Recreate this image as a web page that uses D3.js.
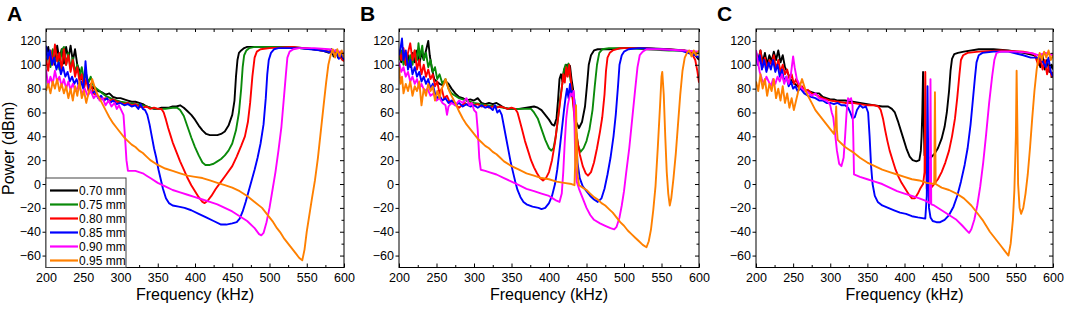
<!DOCTYPE html>
<html>
<head>
<meta charset="utf-8">
<script src="https://cdn.jsdelivr.net/npm/d3@7"></script>
<style>
  body { margin: 0; background: #fff; }
  svg text { font-family: "Liberation Sans", Arial, sans-serif; }
</style>
</head>
<body>
<svg id="chart" width="1065" height="312"></svg>
<script>
// valeurs : [fréquence kHz, puissance dBm]
const thicknesses = ['0.70 mm', '0.75 mm', '0.80 mm', '0.85 mm', '0.90 mm', '0.95 mm'];
const seriesColors = ['#000000', '#0a8a0a', '#ff0000', '#0000ff', '#ff00ff', '#ff8000'];
const xTicks = [200, 250, 300, 350, 400, 450, 500, 550, 600];
const yTicks = [-60, -40, -20, 0, 20, 40, 60, 80, 100, 120];
const xMinor = [225, 275, 325, 375, 425, 475, 525, 575];
const yMinor = [-50, -30, -10, 10, 30, 50, 70, 90, 110];

// --- panneau A
const A070 = [[200,108],[203,115],[206,102],[209,112],[212,100],[215,116],[218,104],[221,113],[224,101],[227,115],[230,105],[233,116],[236,103],[239,113],[242,100],[245,95],[248,88],[252,86],[256,84],[260,82],[265,80],[270,78],[275,77],[280,75],[285,76],[290,73],[295,72],[300,72],[305,71],[310,70],[315,69],[320,69],[325,68],[330,67],[335,65],[340,64],[345,63],[350,63],[355,64],[360,64],[365,64],[370,65],[375,65],[380,66],[385,64],[390,61],[395,58],[400,54],[405,49],[410,45],[415,42],[420,41],[425,41],[430,41],[435,42],[440,44],[445,49],[450,58],[453,70],[455,90],[457,104],[459,110],[462,112],[466,114],[470,115],[480,115],[500,115],[520,115],[540,114],[560,113],[570,112],[580,110],[583,113],[586,107],[589,112],[592,106],[595,111],[598,104],[600,108]];
const A075 = [[200,100],[203,110],[206,98],[209,113],[212,102],[215,108],[218,96],[221,112],[224,115],[227,100],[230,110],[233,97],[236,106],[239,94],[242,100],[245,90],[248,98],[251,87],[254,92],[257,85],[260,90],[264,82],[268,80],[272,78],[276,76],[280,74],[290,71],[300,69],[310,68],[320,67],[330,66],[340,64],[350,63],[360,63],[370,64],[376,64],[380,62],[385,57],[390,48],[395,39],[400,31],[405,24],[410,18],[414,16],[420,16],[425,17],[430,19],[435,21],[440,24],[445,28],[450,34],[455,45],[459,60],[462,80],[464,98],[466,108],[469,112],[473,114],[480,115],[500,115],[530,115],[560,113],[580,111],[600,108]];
const A080 = [[200,105],[203,95],[206,112],[209,100],[212,117],[215,103],[218,110],[221,96],[224,113],[227,100],[230,108],[233,94],[236,104],[239,90],[242,98],[245,86],[248,92],[251,80],[254,88],[257,78],[260,84],[264,76],[268,74],[272,72],[276,71],[280,72],[285,70],[290,71],[295,69],[300,68],[305,67],[310,68],[315,66],[320,67],[325,65],[330,64],[335,65],[340,63],[345,64],[350,63],[355,63],[358,60],[361,54],[364,47],[367,41],[370,35],[375,27],[380,19],[385,12],[390,5],[395,-1],[400,-6],[405,-11],[410,-15],[413,-16],[417,-14],[422,-10],[428,-4],[435,2],[442,8],[450,15],[456,23],[462,32],[467,40],[471,52],[474,68],[477,90],[480,106],[483,111],[488,113],[500,114],[530,115],[560,113],[580,111],[590,109],[595,106],[600,103]];
const A085 = [[200,116],[202,105],[205,112],[208,100],[211,106],[214,96],[217,102],[220,92],[223,98],[226,90],[229,94],[232,86],[235,90],[238,84],[241,88],[244,82],[247,86],[250,80],[252,92],[253,103],[255,88],[258,80],[262,76],[266,78],[270,72],[274,74],[278,70],[282,72],[286,68],[290,70],[295,67],[300,68],[305,66],[310,67],[315,65],[320,66],[324,63],[327,67],[330,63],[333,62],[336,58],[339,50],[342,40],[345,30],[348,22],[351,12],[354,4],[357,-4],[361,-12],[365,-16],[370,-18],[378,-19],[386,-20],[395,-22],[405,-25],[415,-28],[425,-31],[435,-34],[442,-34],[450,-33],[456,-32],[460,-29],[464,-23],[468,-15],[472,-6],[476,3],[480,12],[484,22],[488,34],[492,50],[495,72],[497,92],[499,104],[502,110],[506,113],[512,114],[540,114],[570,112],[585,110],[590,112],[593,105],[596,110],[600,104]];
const A090 = [[200,96],[203,82],[206,90],[209,84],[212,95],[215,86],[218,90],[221,82],[224,88],[227,80],[230,86],[233,79],[236,84],[240,78],[244,83],[248,76],[252,80],[256,74],[260,78],[264,72],[268,75],[272,70],[276,72],[280,66],[284,70],[288,65],[292,68],[295,63],[298,66],[301,62],[304,58],[306,40],[308,20],[310,11],[315,11],[320,11],[325,10],[330,9],[335,7],[340,5],[350,1],[360,-2],[370,-5],[380,-7],[390,-9],[400,-11],[410,-13],[420,-15],[430,-17],[440,-20],[450,-23],[460,-27],[470,-31],[480,-37],[486,-42],[489,-43],[492,-41],[496,-32],[500,-20],[504,-5],[508,10],[512,28],[516,48],[519,70],[522,92],[524,106],[527,111],[532,113],[540,114],[560,114],[580,113],[600,110]];
const A095 = [[200,78],[203,84],[206,76],[209,86],[212,80],[215,88],[218,78],[221,84],[224,76],[227,82],[230,72],[233,80],[236,70],[239,82],[242,74],[245,86],[248,72],[251,78],[254,68],[257,76],[260,82],[262,88],[264,84],[267,78],[270,74],[275,68],[280,62],[285,56],[290,51],[295,47],[300,43],[305,39],[310,36],[315,33],[320,31],[325,28],[330,26],[335,23],[340,20],[350,16],[360,13],[370,11],[380,9],[390,7],[400,6],[410,5],[420,3],[430,1],[440,-1],[450,-3],[460,-6],[470,-10],[480,-15],[490,-20],[495,-24],[500,-28],[505,-32],[510,-37],[515,-41],[520,-46],[525,-50],[530,-54],[535,-58],[540,-62],[544,-64],[547,-55],[550,-40],[553,-28],[557,-12],[561,3],[565,22],[569,45],[573,68],[576,85],[579,100],[582,108],[585,113],[588,106],[591,113],[594,107],[597,112],[600,106]];

// --- panneau B
const B070 = [[200,110],[203,102],[206,112],[209,100],[212,108],[215,98],[218,110],[221,102],[224,112],[227,100],[230,110],[233,104],[236,112],[239,120],[241,108],[244,96],[247,88],[250,86],[254,84],[258,83],[262,86],[266,84],[270,80],[275,76],[280,73],[285,72],[290,70],[295,71],[300,70],[305,72],[310,68],[315,67],[320,68],[325,67],[330,68],[335,66],[340,64],[345,63],[350,63],[360,63],[370,64],[380,65],[385,64],[390,62],[395,58],[400,54],[404,50],[407,49],[410,55],[412,70],[414,88],[416,92],[418,86],[420,96],[422,90],[424,100],[426,94],[428,99],[430,88],[432,80],[434,65],[436,52],[440,47],[444,52],[448,65],[451,85],[453,100],[456,108],[460,112],[465,113],[480,113],[500,114],[530,114],[560,113],[580,112],[590,110],[595,108],[600,104]];
const B075 = [[200,104],[203,112],[206,100],[209,110],[212,98],[215,108],[218,100],[221,112],[224,104],[226,118],[228,106],[231,116],[233,104],[236,110],[239,98],[242,104],[245,94],[248,98],[251,88],[254,92],[258,84],[262,88],[266,80],[270,76],[275,74],[280,72],[290,70],[300,68],[310,67],[320,66],[330,65],[340,64],[350,63],[360,63],[370,63],[376,63],[380,60],[385,55],[390,46],[395,37],[400,30],[403,28],[406,30],[409,40],[412,55],[415,72],[418,85],[420,96],[422,100],[424,95],[426,101],[428,90],[430,82],[432,70],[434,60],[436,45],[439,32],[442,27],[446,30],[450,36],[454,46],[458,62],[461,82],[464,100],[467,110],[471,113],[480,114],[500,114],[530,113],[560,112],[580,112],[600,110]];
const B080 = [[200,112],[203,104],[206,114],[209,100],[212,110],[215,118],[218,104],[221,112],[224,96],[227,104],[230,92],[233,100],[236,90],[239,96],[242,88],[245,92],[248,82],[251,86],[254,76],[257,80],[260,72],[264,74],[268,68],[272,70],[276,66],[280,64],[284,66],[288,68],[292,66],[296,68],[300,66],[305,67],[310,65],[315,66],[320,64],[325,65],[330,64],[335,65],[340,64],[345,63],[350,64],[355,63],[358,60],[361,53],[364,46],[368,36],[372,28],[376,20],[380,14],[384,9],[388,5],[392,3],[396,5],[400,10],[404,20],[408,35],[411,50],[414,65],[417,80],[419,92],[421,85],[423,98],[425,90],[427,100],[429,88],[431,75],[433,62],[435,48],[438,36],[441,25],[445,15],[449,9],[452,7],[456,10],[460,18],[464,30],[468,44],[471,56],[474,75],[476,95],[478,106],[481,110],[485,112],[495,114],[520,114],[550,113],[580,112],[590,110],[595,104],[598,94],[600,85]];
const B085 = [[200,108],[202,114],[204,122],[206,104],[209,112],[212,96],[215,104],[218,92],[221,98],[224,90],[227,94],[230,86],[233,90],[236,84],[239,88],[242,80],[245,84],[248,76],[251,72],[254,74],[258,70],[262,72],[266,68],[270,70],[275,66],[280,68],[285,65],[290,67],[295,65],[300,66],[305,64],[310,66],[315,64],[320,65],[325,62],[328,66],[331,60],[334,62],[337,58],[340,48],[343,38],[346,28],[349,18],[352,10],[355,2],[358,-5],[362,-11],[366,-15],[370,-17],[378,-19],[386,-20],[390,-21],[395,-20],[400,-16],[404,-10],[408,0],[411,12],[414,28],[417,45],[420,62],[422,72],[424,80],[426,72],[428,84],[430,74],[432,78],[434,70],[436,40],[438,18],[441,5],[445,-2],[450,-6],[455,-10],[460,-13],[465,-15],[470,-12],[474,-4],[478,8],[482,22],[486,40],[489,58],[492,82],[494,100],[497,108],[500,111],[506,113],[520,114],[550,113],[575,112],[585,110],[595,108],[600,106]];
const B090 = [[200,102],[203,94],[206,98],[209,90],[212,94],[215,86],[218,90],[221,84],[224,88],[227,80],[230,84],[234,78],[238,80],[242,74],[246,76],[250,70],[254,72],[258,68],[262,66],[264,58],[266,65],[270,68],[275,66],[280,70],[285,68],[290,72],[294,66],[297,68],[300,62],[303,60],[305,45],[307,22],[309,12],[315,11],[320,10],[330,8],[340,5],[350,2],[360,-1],[370,-4],[380,-6],[390,-8],[400,-10],[405,-12],[410,-14],[414,-15],[417,-8],[419,10],[421,35],[423,55],[425,66],[427,72],[429,76],[431,74],[433,78],[434,50],[435,20],[437,2],[440,-4],[445,-12],[450,-20],[455,-26],[460,-30],[468,-33],[475,-35],[482,-37],[487,-38],[490,-36],[494,-28],[497,-18],[500,-6],[503,10],[507,30],[511,55],[515,80],[518,98],[521,108],[525,111],[530,113],[550,113],[580,112],[600,111]];
const B095 = [[200,98],[202,84],[204,90],[206,76],[209,84],[212,78],[215,86],[218,74],[221,82],[224,78],[227,86],[230,66],[233,80],[236,74],[239,84],[242,78],[245,82],[248,70],[251,78],[254,72],[257,80],[260,84],[262,88],[264,84],[267,78],[270,74],[275,68],[280,61],[285,55],[290,50],[295,46],[300,42],[305,38],[310,35],[315,32],[320,30],[325,27],[330,25],[335,22],[340,19],[350,15],[360,12],[370,9],[380,7],[390,5],[400,4],[410,2],[420,1],[430,0],[434,-1],[435,20],[436,66],[437,40],[438,8],[440,-1],[445,-3],[450,-5],[455,-8],[460,-11],[465,-13],[470,-16],[475,-18],[480,-21],[485,-24],[490,-28],[495,-32],[500,-35],[505,-39],[510,-42],[515,-45],[520,-48],[525,-51],[530,-53],[533,-48],[536,-38],[539,-22],[542,-2],[545,30],[548,65],[550,90],[551,94],[553,75],[555,40],[557,10],[559,-8],[561,-18],[563,-12],[566,5],[569,25],[572,50],[575,75],[578,95],[581,106],[584,110],[587,112],[590,107],[593,112],[596,108],[600,112]];

// --- panneau C (pas de courbe 0.75 mm)
const C070 = [[200,110],[203,104],[206,112],[209,102],[212,110],[215,100],[218,108],[221,103],[224,111],[227,104],[230,112],[233,102],[236,108],[239,98],[242,94],[245,90],[248,86],[252,84],[256,82],[260,80],[265,79],[270,78],[275,77],[280,76],[285,76],[290,73],[295,72],[300,71],[305,71],[310,70],[320,70],[330,69],[340,68],[350,67],[360,66],[370,65],[378,65],[383,63],[387,60],[391,53],[395,45],[399,37],[403,29],[407,23],[411,20],[416,19],[420,20],[422,28],[423,40],[424,60],[425,94],[426,50],[427,24],[430,22],[435,22],[440,25],[445,30],[450,38],[454,48],[457,60],[460,78],[462,95],[464,105],[467,109],[472,110],[480,111],[500,113],[520,113],[540,112],[560,110],[575,108],[580,104],[583,98],[586,108],[589,96],[592,104],[595,94],[598,100],[600,96]];
const C080 = [[200,108],[203,100],[206,112],[209,98],[212,106],[215,96],[218,104],[221,100],[224,108],[227,96],[230,104],[233,94],[236,100],[239,92],[242,96],[245,88],[248,92],[251,84],[254,88],[258,80],[262,82],[266,78],[270,79],[275,76],[280,75],[290,72],[300,70],[310,69],[320,68],[330,68],[340,67],[350,66],[360,66],[365,65],[368,62],[371,55],[374,45],[377,36],[380,28],[384,20],[388,12],[392,6],[396,1],[400,-3],[405,-8],[410,-12],[414,-12],[418,-8],[421,-4],[425,0],[427,10],[428,94],[429,20],[430,-4],[433,-5],[436,-3],[440,0],[445,4],[450,10],[455,18],[460,28],[464,40],[468,55],[471,72],[474,92],[476,104],[479,108],[485,110],[500,111],[530,112],[560,111],[575,109],[580,100],[583,106],[586,96],[589,104],[592,92],[595,100],[598,90],[600,94]];
const C085 = [[200,112],[202,100],[205,108],[208,96],[211,104],[214,94],[217,102],[220,96],[223,104],[226,94],[229,100],[232,90],[235,96],[238,86],[241,90],[244,82],[247,86],[250,80],[253,82],[256,78],[260,80],[265,76],[270,74],[275,73],[280,72],[285,70],[290,70],[295,68],[300,68],[305,67],[310,68],[315,66],[320,66],[324,64],[327,60],[330,55],[333,56],[336,62],[340,66],[344,64],[348,65],[351,60],[353,40],[355,15],[357,0],[360,-10],[364,-15],[370,-18],[378,-20],[386,-22],[394,-24],[402,-25],[410,-27],[418,-28],[428,-29],[430,-10],[431,82],[432,20],[433,-20],[435,-28],[438,-31],[443,-32],[448,-32],[454,-30],[460,-26],[466,-19],[471,-10],[476,2],[481,16],[485,30],[489,50],[492,70],[495,90],[497,102],[500,108],[505,110],[520,111],[540,111],[560,108],[570,106],[580,106],[585,104],[590,98],[594,106],[597,94],[600,90]];
const C090 = [[200,112],[202,104],[205,94],[208,88],[211,84],[214,90],[217,86],[220,82],[223,88],[226,84],[229,90],[232,86],[235,92],[238,84],[241,90],[244,84],[247,92],[250,107],[252,98],[255,88],[258,84],[262,80],[266,78],[270,77],[275,74],[280,76],[285,72],[290,71],[295,70],[298,68],[300,66],[302,60],[304,56],[306,45],[309,28],[312,17],[315,15],[318,22],[320,40],[322,60],[324,72],[326,70],[328,72],[330,66],[331,40],[332,8],[340,6],[350,4],[360,2],[370,0],[380,-3],[390,-6],[400,-8],[410,-10],[420,-12],[428,-14],[434,-16],[435,88],[436,-17],[440,-18],[450,-22],[460,-26],[470,-30],[478,-35],[484,-39],[487,-41],[490,-38],[494,-30],[498,-18],[502,-2],[506,18],[510,42],[514,68],[518,90],[521,104],[524,110],[530,111],[550,111],[570,110],[580,108],[590,110],[600,108]];
const C095 = [[200,86],[203,78],[206,92],[209,80],[212,88],[215,74],[218,84],[221,78],[224,88],[227,72],[230,80],[233,70],[236,82],[239,68],[242,76],[245,64],[248,72],[251,62],[254,70],[257,78],[260,84],[262,88],[264,84],[267,78],[270,74],[275,68],[280,62],[285,58],[290,54],[295,50],[300,46],[305,42],[307,50],[308,65],[309,45],[310,37],[315,34],[320,31],[325,29],[330,27],[340,22],[350,18],[360,15],[370,12],[380,10],[390,8],[400,6],[410,4],[420,3],[430,1],[440,0],[441,77],[442,0],[450,-3],[460,-5],[470,-8],[480,-12],[490,-18],[500,-26],[505,-30],[510,-35],[515,-40],[520,-44],[525,-48],[530,-52],[535,-56],[540,-60],[543,-50],[546,-30],[548,-5],[550,40],[551,95],[552,50],[553,0],[555,-20],[557,-25],[560,-20],[563,-8],[566,8],[569,30],[572,55],[575,78],[578,96],[580,104],[582,110],[585,104],[588,111],[591,106],[594,112],[597,104],[600,108]];

const panels = [
    { letter: 'A', left: 46, right: 344, series: [A070, A075, A080, A085, A090, A095], legend: true, yLabel: true },
    { letter: 'B', left: 399, right: 699, series: [B070, B075, B080, B085, B090, B095] },
    { letter: 'C', left: 756, right: 1053, series: [C070, null, C080, C085, C090, C095] }
];

const plotTop = 29, plotBottom = 267.5;
const svg = d3.select('#chart');

const y = d3.scaleLinear().domain([-70, 130]).range([plotBottom, plotTop]);

panels.forEach((p, pi) => {
    const x = d3.scaleLinear().domain([200, 600]).range([p.left, p.right]);
    const g = svg.append('g');

    // clip
    const clipId = 'clip' + pi;
    svg.append('clipPath').attr('id', clipId)
        .append('rect')
        .attr('x', p.left).attr('y', plotTop)
        .attr('width', p.right - p.left).attr('height', plotBottom - plotTop);

    const line = d3.line().x(d => x(d[0])).y(d => y(d[1]));

    const lines = g.append('g').attr('clip-path', `url(#${clipId})`);
    p.series.forEach((s, i) => {
        if (!s) return;
        lines.append('path')
            .attr('d', line(s))
            .attr('fill', 'none')
            .attr('stroke', seriesColors[i])
            .attr('stroke-width', 1.9)
            .attr('stroke-linejoin', 'round');
    });

    // axes (ticks majeurs et mineurs)
    const styleAxis = sel => {
        sel.select('.domain').remove();
        sel.selectAll('line').attr('stroke', '#000');
        sel.selectAll('text').attr('fill', '#000').attr('font-size', 12.5)
            .attr('font-family', '"Liberation Sans", Arial, sans-serif');
    };

    g.append('g').attr('transform', `translate(0,${plotBottom})`)
        .call(d3.axisBottom(x).tickValues(xTicks).tickSizeInner(-4).tickSizeOuter(0).tickPadding(5.5))
        .call(styleAxis);
    g.append('g').attr('transform', `translate(0,${plotBottom})`)
        .call(d3.axisBottom(x).tickValues(xMinor).tickSizeInner(-2.5).tickSizeOuter(0).tickFormat(''))
        .call(styleAxis);
    g.append('g').attr('transform', `translate(0,${plotTop})`)
        .call(d3.axisTop(x).tickValues(xTicks.concat(xMinor)).tickSizeInner(-3).tickSizeOuter(0).tickFormat(''))
        .call(styleAxis);

    g.append('g').attr('transform', `translate(${p.left},0)`)
        .call(d3.axisLeft(y).tickValues(yTicks).tickSizeInner(3.5).tickSizeOuter(0).tickPadding(1.5))
        .call(styleAxis);
    g.append('g').attr('transform', `translate(${p.right},0)`)
        .call(d3.axisRight(y).tickValues(yTicks).tickSizeInner(-4).tickSizeOuter(0).tickFormat(''))
        .call(styleAxis);
    g.append('g').attr('transform', `translate(${p.right},0)`)
        .call(d3.axisRight(y).tickValues(yMinor).tickSizeInner(-2.5).tickSizeOuter(0).tickFormat(''))
        .call(styleAxis);

    g.append('rect')
        .attr('x', p.left).attr('y', plotTop)
        .attr('width', p.right - p.left).attr('height', plotBottom - plotTop)
        .attr('fill', 'none').attr('stroke', '#000').attr('stroke-width', 1);

    // titres
    g.append('text')
        .attr('x', (p.left + p.right) / 2).attr('y', 299.5)
        .attr('text-anchor', 'middle').attr('font-size', 16)
        .text('Frequency (kHz)');

    g.append('text')
        .attr('x', p.left - 39).attr('y', 21)
        .attr('font-size', 21).attr('font-weight', 'bold')
        .text(p.letter);

    if (p.yLabel) {
        g.append('text')
            .attr('transform', `translate(14,${(plotTop + plotBottom) / 2}) rotate(-90)`)
            .attr('text-anchor', 'middle').attr('font-size', 16)
            .text('Power (dBm)');
    }

    // légende
    if (p.legend) {
        const lg = g.append('g');
        lg.append('rect')
            .attr('x', p.left).attr('y', 178)
            .attr('width', 80).attr('height', plotBottom - 178)
            .attr('fill', '#fff').attr('stroke', '#444').attr('stroke-width', 1);
        thicknesses.forEach((t, i) => {
            const yy = 190.5 + i * 14;
            lg.append('line')
                .attr('x1', p.left + 4).attr('x2', p.left + 32)
                .attr('y1', yy).attr('y2', yy)
                .attr('stroke', seriesColors[i]).attr('stroke-width', 2.2);
            lg.append('text')
                .attr('x', p.left + 33).attr('y', yy + 4.5)
                .attr('font-size', 12)
                .text(t);
        });
    }
});
</script>
</body>
</html>
